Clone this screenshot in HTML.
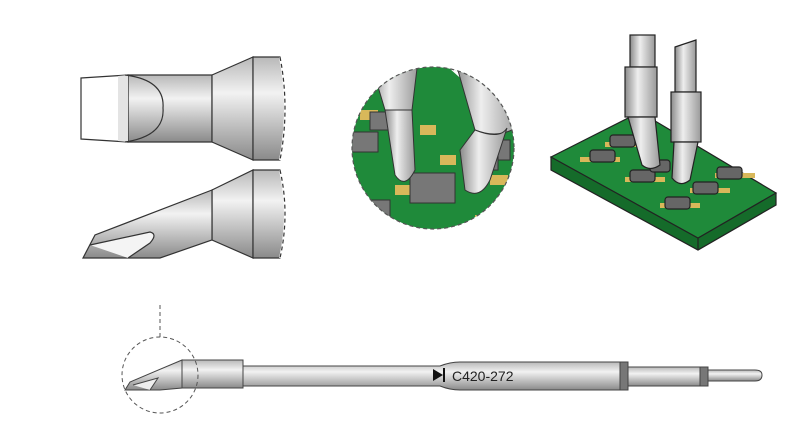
<!DOCTYPE html><html><head><style>body{margin:0;background:#fff}svg{display:block}</style></head><body>
<svg width="800" height="436" viewBox="0 0 800 436" xmlns="http://www.w3.org/2000/svg" font-family="Liberation Sans, sans-serif">
<defs>
<linearGradient id="g" x1="0" y1="0" x2="0" y2="1"><stop offset="0" stop-color="#b8b8b8"/><stop offset=".35" stop-color="#f2f2f2"/><stop offset="1" stop-color="#8a8a8a"/></linearGradient>
<linearGradient id="gh" x1="0" y1="0" x2="1" y2="0"><stop offset="0" stop-color="#8a8a8a"/><stop offset=".4" stop-color="#eee"/><stop offset="1" stop-color="#999"/></linearGradient>
<clipPath id="c"><circle cx="433" cy="148" r="81"/></clipPath>
</defs>
<g stroke="#333" stroke-width="1.2">
<!-- top tip -->
<path d="M128,75 L212,75 L212,142 L128,142 Z" fill="url(#g)"/>
<path d="M81,78 L128,75 L128,142 L81,139 Z" fill="#fff"/>
<path d="M118,76 L128,75 L128,142 L118,141Z" fill="#e4e4e4" stroke="none"/>
<path d="M125,75 Q165,80 163,108 Q165,136 125,142" fill="none"/>
<path d="M212,75 L253,57 L253,160 L212,142 Z" fill="url(#g)"/>
<path d="M253,57 L280,57 Q290,108 280,160 L253,160 Z" fill="url(#g)"/>
<path d="M280,57 Q290,108 280,160" fill="none" stroke="#fff" stroke-width="2"/>
<path d="M280,57 Q290,108 280,160" fill="none" stroke-dasharray="4 3"/>
<!-- bottom angled tip -->
<path d="M212,190 L253,170 L253,258 L212,240 Z" fill="url(#g)"/>
<path d="M253,170 L280,170 Q290,214 280,258 L253,258 Z" fill="url(#g)"/>
<path d="M280,170 Q290,214 280,258" fill="none" stroke="#fff" stroke-width="2"/>
<path d="M280,170 Q290,214 280,258" fill="none" stroke-dasharray="4 3"/>
<path d="M212,190 L95,235 L83,258 L160,258 L212,240 Z" fill="url(#g)"/>
<path d="M90,245 L150,232 Q158,234 150,243 L128,258" fill="#f4f4f4"/>
</g>
<!-- zoom circle -->
<g clip-path="url(#c)">
<rect x="340" y="60" width="190" height="180" fill="#1f8a3a"/>
<path d="M340,60 L440,60 L530,140 L530,60Z" fill="#fff"/>
<path d="M340,60 L420,60 L340,100Z" fill="#fff"/>
<g fill="#d8b85a"><rect x="360" y="110" width="18" height="10"/><rect x="420" y="125" width="16" height="10"/><rect x="440" y="155" width="16" height="10"/><rect x="395" y="185" width="18" height="10"/><rect x="490" y="175" width="18" height="10"/><rect x="475" y="215" width="18" height="10"/></g>
<g fill="#777" stroke="#333"><rect x="350" y="132" width="28" height="20"/><rect x="370" y="112" width="20" height="18"/><rect x="410" y="173" width="45" height="30"/><rect x="480" y="140" width="30" height="20"/><rect x="360" y="200" width="30" height="25"/><rect x="470" y="148" width="28" height="22"/></g>
<g stroke="#333" fill="url(#gh)">
<path d="M370,60 L418,60 L412,110 L385,110Z"/>
<path d="M385,110 L412,110 L415,170 Q405,190 395,175 Z"/>
<path d="M455,60 L520,60 L520,125 Q500,140 475,130 Z"/>
<path d="M475,130 Q500,140 507,128 L490,180 Q480,200 465,190 L460,150 Z"/>
</g>
</g>
<circle cx="433" cy="148" r="81" fill="none" stroke="#555" stroke-width="1.2" stroke-dasharray="4 3"/>
<!-- board -->
<g stroke="#222" stroke-width="1.2">
<path d="M551,157 L551,170 L698,250 L776,205 L776,193 Z" fill="#156b2a"/>
<path d="M551,157 L640,112 L776,193 L698,238 Z" fill="#1f8a3a"/>
<path d="M698,238 L698,250" />
<g fill="#d8b85a" stroke="none"><rect x="580" y="157" width="40" height="5"/><rect x="605" y="142" width="40" height="5"/><rect x="625" y="177" width="40" height="5"/><rect x="660" y="203" width="40" height="5"/><rect x="690" y="188" width="40" height="5"/><rect x="715" y="173" width="40" height="5"/></g>
<g fill="#666"><rect x="590" y="150" width="25" height="12" rx="3"/><rect x="610" y="135" width="25" height="12" rx="3"/><rect x="630" y="170" width="25" height="12" rx="3"/><rect x="665" y="197" width="25" height="12" rx="3"/><rect x="693" y="182" width="25" height="12" rx="3"/><rect x="717" y="167" width="25" height="12" rx="3"/><rect x="650" y="160" width="20" height="12" rx="3"/></g>
<g fill="url(#gh)">
<rect x="630" y="35" width="25" height="32"/><rect x="625" y="67" width="32" height="50"/><path d="M628,117 L655,117 L660,165 Q650,172 642,165Z"/>
<path d="M675,47 L696,40 L696,92 L675,92Z"/><rect x="671" y="92" width="30" height="50"/><path d="M674,142 L698,142 L690,180 Q680,188 672,178Z"/>
</g>
</g>
<!-- bottom long tip -->
<path d="M160,305 L160,337" stroke="#555" stroke-dasharray="4 3"/>
<g stroke="#444" stroke-width="1">
<path d="M243,366 L440,366 Q450,362 460,362 L620,362 L620,390 L460,390 Q450,390 440,386 L243,386Z" fill="url(#g)"/>
<rect x="620" y="362" width="8" height="28" fill="#777"/>
<rect x="628" y="367" width="72" height="19" fill="url(#g)"/>
<rect x="700" y="367" width="8" height="19" fill="#777"/>
<path d="M708,370 L755,370 Q762,370 762,375 Q762,381 755,381 L708,381Z" fill="url(#g)"/>
<rect x="182" y="360" width="61" height="28" fill="url(#g)"/>
<path d="M182,360 L130,382 L125,390 L160,390 L182,388Z" fill="url(#g)"/>
<path d="M133,385 L158,378 L150,390" fill="#eee"/>
</g>
<circle cx="160" cy="375" r="38" fill="none" stroke="#555" stroke-dasharray="4 3"/>
<path d="M433,369 L443,375 L433,381Z" fill="#111"/><rect x="443" y="368" width="2" height="14" fill="#111"/>
<text x="452" y="381" font-size="14" fill="#222">C420-272</text>
</svg></body></html>
